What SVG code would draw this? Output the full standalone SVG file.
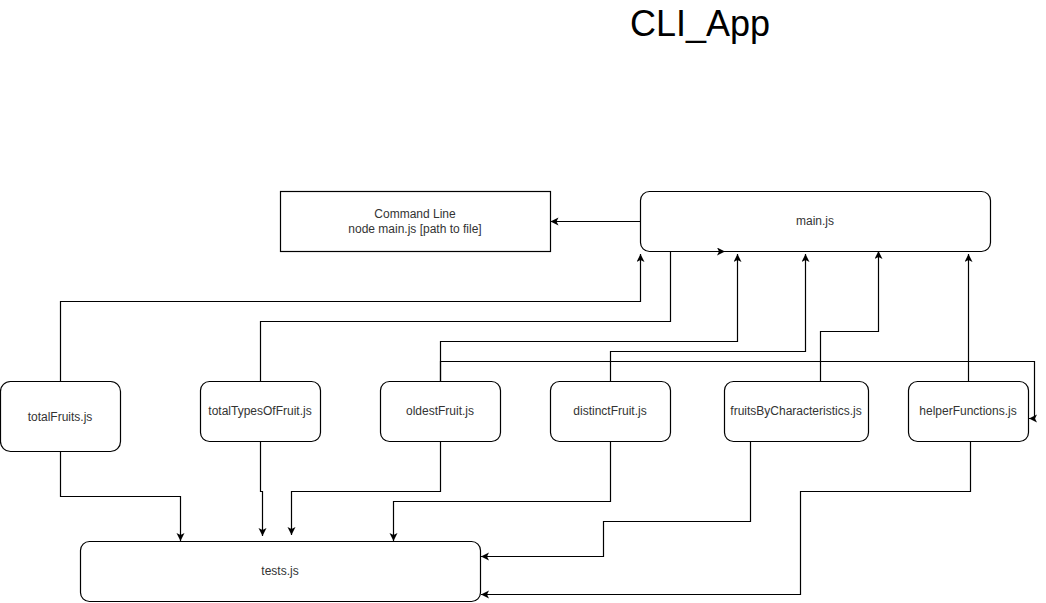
<svg xmlns="http://www.w3.org/2000/svg" width="1046" height="603" viewBox="0 0 1046 603">
<style>
.box{fill:#fff;stroke:#000;stroke-width:1.2}
.lbl{font-family:"Liberation Sans",Arial,sans-serif;font-size:12px;fill:#333;text-anchor:middle;dominant-baseline:central}
.edge{fill:none;stroke:#000;stroke-width:1.2}
</style>
<defs>
<marker id="arr" markerWidth="10" markerHeight="10" refX="8" refY="4" orient="auto" markerUnits="userSpaceOnUse">
<path d="M0,0 L8,4 L0,8 L2,4 z" fill="#000"/>
</marker>
</defs>
<rect width="1046" height="603" fill="#fff"/>
<text x="700" y="36" font-family="'Liberation Sans',Arial,sans-serif" font-size="36" text-anchor="middle" fill="#000">CLI_App</text>

<g id="cmdline">
<rect class="box" x="280.5" y="191.5" width="270" height="60"/>
<text class="lbl" x="415" y="214">Command Line</text>
<text class="lbl" x="415" y="229">node main.js [path to file]</text>
</g>
<g id="main">
<rect class="box" x="640.5" y="191.5" width="350" height="60" rx="9"/>
<text class="lbl" x="815" y="221">main.js</text>
</g>
<g id="totalFruits">
<rect class="box" x="0.5" y="381.5" width="120" height="70" rx="10"/>
<text class="lbl" x="60" y="417">totalFruits.js</text>
</g>
<g id="totalTypesOfFruit">
<rect class="box" x="200.5" y="381.5" width="120" height="60" rx="9"/>
<text class="lbl" x="260" y="411">totalTypesOfFruit.js</text>
</g>
<g id="oldestFruit">
<rect class="box" x="380.5" y="381.5" width="120" height="60" rx="9"/>
<text class="lbl" x="440" y="411">oldestFruit.js</text>
</g>
<g id="distinctFruit">
<rect class="box" x="550.5" y="381.5" width="120" height="60" rx="9"/>
<text class="lbl" x="610" y="411">distinctFruit.js</text>
</g>
<g id="fruitsByCharacteristics">
<rect class="box" x="724.5" y="381.5" width="144" height="60" rx="9"/>
<text class="lbl" x="796" y="411">fruitsByCharacteristics.js</text>
</g>
<g id="helperFunctions">
<rect class="box" x="908.5" y="381.5" width="120" height="60" rx="9"/>
<text class="lbl" x="968" y="411">helperFunctions.js</text>
</g>
<g id="tests">
<rect class="box" x="80.5" y="541.5" width="400" height="60" rx="9"/>
<text class="lbl" x="280" y="571">tests.js</text>
</g>

<g id="connectors">
<path class="edge" d="M640.5,221.5 H550.5" marker-end="url(#arr)"/>
<path class="edge" d="M60.5,381 V301.5 H640.5 V254" marker-end="url(#arr)"/>
<path class="edge" d="M260.5,381 V321.5 H670.5 V251.5 H725" marker-end="url(#arr)"/>
<path class="edge" d="M440.5,381 V341.5 H737.5 V254" marker-end="url(#arr)"/>
<path class="edge" d="M440.5,381 V361.5 H1034.5 V418.5 H1029" marker-end="url(#arr)"/>
<path class="edge" d="M610.5,381 V351.5 H805.5 V254" marker-end="url(#arr)"/>
<path class="edge" d="M820.5,381 V331.5 H878.5 V251" marker-end="url(#arr)"/>
<path class="edge" d="M968.5,381 V254" marker-end="url(#arr)"/>
<path class="edge" d="M60.5,451 V496.5 H180.5 V541" marker-end="url(#arr)"/>
<path class="edge" d="M260.5,441 V491.5 H262.5 V536" marker-end="url(#arr)"/>
<path class="edge" d="M440.5,441 V491.5 H291.5 V535" marker-end="url(#arr)"/>
<path class="edge" d="M610.5,441 V501.5 H393.5 V541" marker-end="url(#arr)"/>
<path class="edge" d="M750.5,441 V521.5 H603.5 V556.5 H481" marker-end="url(#arr)"/>
<path class="edge" d="M970.5,441 V491.5 H800.5 V594.5 H481" marker-end="url(#arr)"/>
</g>
</svg>
